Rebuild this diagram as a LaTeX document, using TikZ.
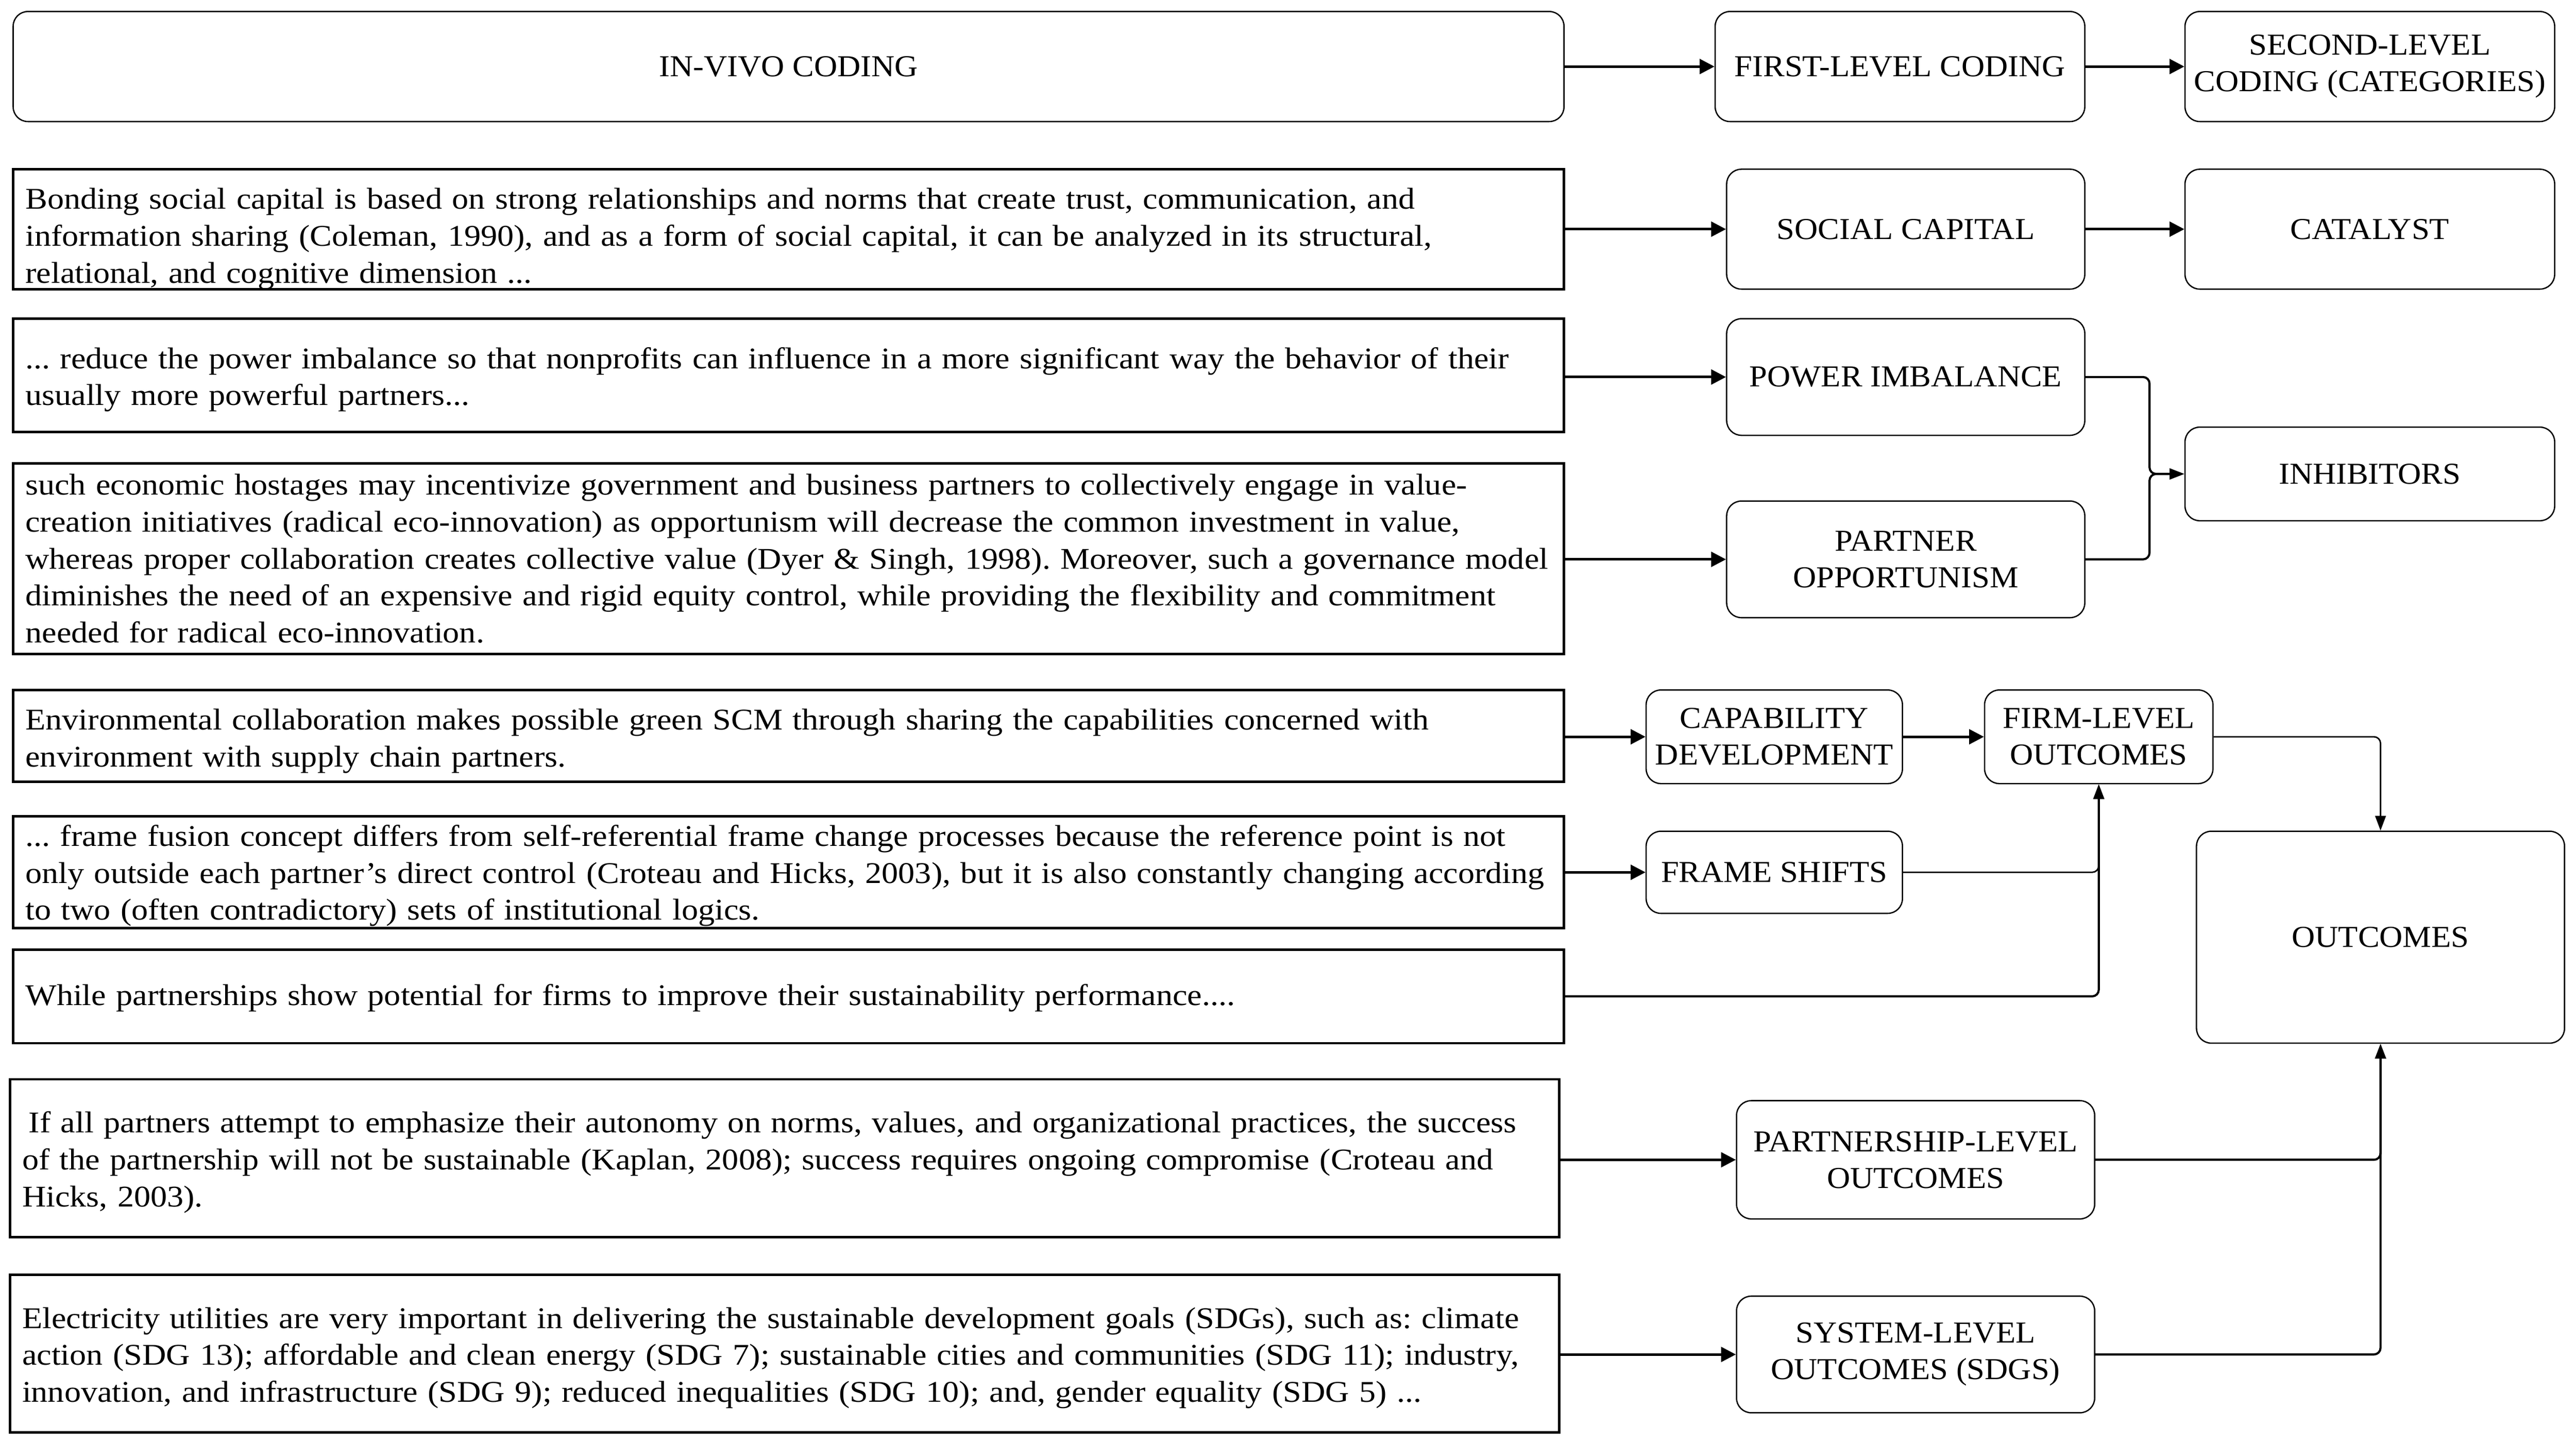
\documentclass[tikz,border=0pt]{standalone}
\usepackage{fontspec}
\setmainfont{Liberation Serif}
\newfontfamily\lblfamily[FakeStretch=1.06]{Liberation Serif}
\newfontfamily\qfamily[FakeStretch=1.10]{Liberation Serif}
\usetikzlibrary{arrows.meta,calc}
\newcommand{\qf}{\qfamily\fontsize{18.3pt}{22.5pt}\selectfont\frenchspacing}
\newcommand{\lf}{\lblfamily\fontsize{18.5pt}{22.3pt}\selectfont}
\newcommand{\tstrut}[1]{\rule{0pt}{#1}}
\begin{document}
\begin{tikzpicture}[x=1pt,y=-1pt,
  qbox/.style={draw, line width=1.5pt, align=left, inner xsep=7.5pt, inner ysep=0pt, font=\qf},
  cbox/.style={draw, line width=0.8pt, rounded corners=9pt, align=center, font=\lf, inner sep=1pt},
  tharr/.style={line width=1.5pt, -{Triangle[length=9pt,width=9pt]}},
  conn/.style={line width=1.3pt, rounded corners=4pt, -{Triangle[length=9pt,width=6.5pt]}},
  tnarr/.style={line width=0.9pt, rounded corners=4pt, -{Triangle[length=9pt,width=6.5pt]}}]
\useasboundingbox (0,0) rectangle (1568,878.8);
% top row
\node[cbox, minimum width=944pt, minimum height=67pt] (inv) at (480,40.5) {IN-VIVO CODING};
\node[cbox, minimum width=225pt, minimum height=67pt] (flc) at (1156.5,40.5) {FIRST-LEVEL CODING};
\node[cbox, minimum width=225pt, minimum height=67pt] (slc) at (1442.5,40.5) {SECOND-LEVEL\\CODING (CATEGORIES)};
% category boxes
\node[cbox, minimum width=218pt, minimum height=73pt] (sc) at (1160,139.5) {SOCIAL CAPITAL};
\node[cbox, minimum width=225pt, minimum height=73pt] (cat) at (1442.5,139.5) {CATALYST};
\node[cbox, minimum width=218pt, minimum height=71pt] (pi) at (1160,229.5) {POWER IMBALANCE};
\node[cbox, minimum width=218pt, minimum height=71pt] (po) at (1160,340.5) {PARTNER\\OPPORTUNISM};
\node[cbox, minimum width=225pt, minimum height=57pt] (inh) at (1442.5,288.5) {INHIBITORS};
\node[cbox, minimum width=156pt, minimum height=57pt] (cd) at (1080,448.5) {CAPABILITY\\DEVELOPMENT};
\node[cbox, minimum width=139pt, minimum height=57pt] (firm) at (1277.5,448.5) {FIRM-LEVEL\\OUTCOMES};
\node[cbox, minimum width=156pt, minimum height=50pt] (fs) at (1080,531) {FRAME SHIFTS};
\node[cbox, minimum width=224pt, minimum height=129pt] (outc) at (1449,570.5) {OUTCOMES};
\node[cbox, minimum width=218pt, minimum height=72pt] (pl) at (1166,706) {PARTNERSHIP-LEVEL\\OUTCOMES};
\node[cbox, minimum width=218pt, minimum height=71pt] (sl) at (1166,824.5) {SYSTEM-LEVEL\\OUTCOMES (SDGS)};
% quote boxes
\node[qbox, text width=929pt, minimum height=73pt] (q1) at (480,139.5) {\tstrut{20.5pt}Bonding social capital is based on strong relationships and norms that create trust, communication, and\\information sharing (Coleman, 1990), and as a form of social capital, it can be analyzed in its structural,\\\raisebox{0pt}[\height][0pt]{relational, and cognitive dimension ...}};
\node[qbox, text width=929pt, minimum height=69pt] (q2) at (480,228.5) {\tstrut{18pt}... reduce the power imbalance so that nonprofits can influence in a more significant way the behavior of their\\usually more powerful partners...};
\node[qbox, text width=929pt, minimum height=116pt] (q3) at (480,340) {such economic hostages may incentivize government and business partners to collectively engage in value-\\creation initiatives (radical eco-innovation) as opportunism will decrease the common investment in value,\\whereas proper collaboration creates collective value (Dyer \& Singh, 1998). Moreover, such a governance model\\diminishes the need of an expensive and rigid equity control, while providing the flexibility and commitment\\needed for radical eco-innovation.};
\node[qbox, text width=929pt, minimum height=56pt] (q4) at (480,448) {\tstrut{19pt}Environmental collaboration makes possible green SCM through sharing the capabilities concerned with\\environment with supply chain partners.};
\node[qbox, text width=929pt, minimum height=68pt] (q5) at (480,531) {\tstrut{17pt}... frame fusion concept differs from self-referential frame change processes because the reference point is not\\only outside each partner’s direct control (Croteau and Hicks, 2003), but it is also constantly changing according\\to two (often contradictory) sets of institutional logics.};
\node[qbox, text width=929pt, minimum height=57pt] (q6) at (480,606.5) {\tstrut{15pt}While partnerships show potential for firms to improve their sustainability performance....};
\node[qbox, text width=928pt, minimum height=96pt] (q7) at (477.5,705) {\tstrut{18pt}\hspace*{4pt}If all partners attempt to emphasize their autonomy on norms, values, and organizational practices, the success\\of the partnership will not be sustainable (Kaplan, 2008); success requires ongoing compromise (Croteau and\\Hicks, 2003).};
\node[qbox, text width=928pt, minimum height=96pt] (q8) at (477.5,824) {\tstrut{18pt}Electricity utilities are very important in delivering the sustainable development goals (SDGs), such as: climate\\action (SDG 13); affordable and clean energy (SDG 7); sustainable cities and communities (SDG 11); industry,\\innovation, and infrastructure (SDG 9); reduced inequalities (SDG 10); and, gender equality (SDG 5) ...};
% arrows
\draw[tharr] (inv.east) -- (flc.west);
\draw[tharr] (flc.east) -- (slc.west);
\draw[tharr] (q1.east) -- (sc.west);
\draw[tharr] (sc.east) -- (cat.west);
\draw[tharr] (q2.east |- pi.west) -- (pi.west);
\draw[tharr] (q3.east |- po.west) -- (po.west);
\draw[tharr] (q4.east |- cd.west) -- (cd.west);
\draw[tharr] (cd.east) -- (firm.west);
\draw[tharr] (q5.east) -- (fs.west);
\draw[tharr] (q7.east |- pl.west) -- (pl.west);
\draw[tharr] (q8.east |- sl.west) -- (sl.west);
\coordinate (jn) at ($(pi.east)+(39,0)$);
\draw[conn] (pi.east) -- (jn) |- (inh.west);
\draw[conn] (po.east) -| (jn |- inh.west) -- (inh.west);
\draw[tnarr] (fs.east) -| (firm.south);
\draw[conn] (q6.east) -| (firm.south);
\draw[tnarr] (firm.east) -| (outc.north);
\draw[conn] (pl.east) -| (outc.south);
\draw[conn] (sl.east) -| (outc.south);
\end{tikzpicture}
\end{document}
